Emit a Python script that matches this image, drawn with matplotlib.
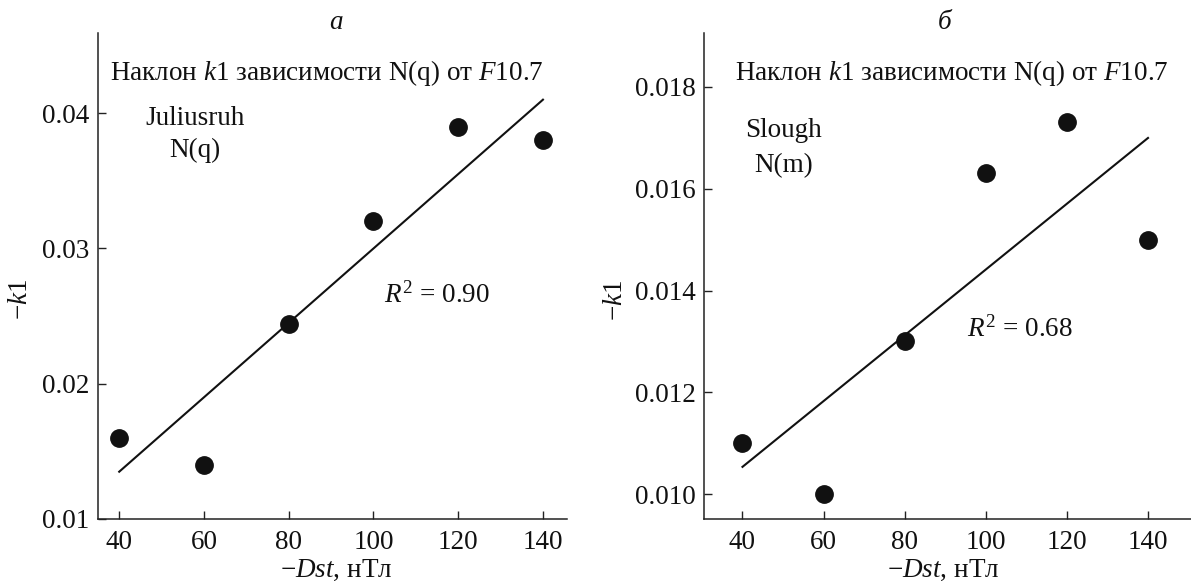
"""Slope k1 of N(q)/N(m) vs F10.7 as a function of -Dst, two stations."""
import numpy as np
import matplotlib
matplotlib.use("Agg")
import matplotlib.pyplot as plt
from matplotlib.ticker import FixedLocator, FormatStrFormatter

plt.rcParams["font.family"] = ["Liberation Serif", "DejaVu Serif"]
plt.rcParams["mathtext.fontset"] = "custom"
plt.rcParams["mathtext.rm"] = "Liberation Serif"
plt.rcParams["mathtext.it"] = "Liberation Serif:italic"
plt.rcParams["mathtext.bf"] = "Liberation Serif:bold"

# ------------------------------------------------------------------ #
# Data
# ------------------------------------------------------------------ #
dst = [40, 60, 80, 100, 120, 140]

k1_juliusruh = [0.016, 0.014, 0.0244, 0.032, 0.039, 0.038]
k1_slough = [0.011, 0.010, 0.013, 0.0163, 0.0173, 0.015]

xticks = [40, 60, 80, 100, 120, 140]
yticks_a = [0.01, 0.02, 0.03, 0.04]
yticks_b = [0.010, 0.012, 0.014, 0.016, 0.018]

FS = 19.5
INK = "#111111"


def style_axes(ax, xlim, ylim, yticks, yfmt):
    ax.set_xlim(*xlim)
    ax.set_ylim(*ylim)
    ax.xaxis.set_major_locator(FixedLocator(xticks))
    ax.yaxis.set_major_locator(FixedLocator(yticks))
    ax.yaxis.set_major_formatter(FormatStrFormatter(yfmt))
    for side in ("top", "right"):
        ax.spines[side].set_visible(False)
    for side in ("left", "bottom"):
        ax.spines[side].set_linewidth(1.1)
        ax.spines[side].set_color("#222222")
    ax.tick_params(axis="both", direction="in", length=6, width=1.0,
                   color="#222222", labelsize=FS, labelcolor=INK)
    ax.tick_params(axis="x", pad=8)
    ax.tick_params(axis="y", pad=6)


def draw_panel(ax, x, y, letter, station, series, r2_pos, lab):
    x = np.asarray(x, dtype=float)
    y = np.asarray(y, dtype=float)
    slope, icpt = np.polyfit(x, y, 1)
    fit = slope * x + icpt
    r2 = 1 - np.sum((y - fit) ** 2) / np.sum((y - y.mean()) ** 2)

    xs = np.array([x.min(), x.max()])
    ax.plot(xs, slope * xs + icpt, color=INK, lw=1.5, zorder=2)
    ax.plot(x, y, "o", ms=12.5, color=INK, mec=INK, zorder=3)

    tr = ax.transAxes
    ax.text(lab["letter"][0], lab["letter"][1], letter, transform=tr,
            ha="center", va="baseline", fontsize=FS, style="italic", color=INK)
    ax.text(lab["title"][0], lab["title"][1],
            r"Наклон $k$1 зависимости N(q) от $F$10.7", transform=tr,
            ha="center", va="baseline", fontsize=FS, color=INK)
    ax.text(lab["station"][0], lab["station"][1], station, transform=tr,
            ha="center", va="baseline", fontsize=FS, color=INK)
    ax.text(lab["series"][0], lab["series"][1], series, transform=tr,
            ha="center", va="baseline", fontsize=FS, color=INK)
    ax.text(r2_pos[0], r2_pos[1], rf"$R^2$ = {r2:.2f}", transform=tr,
            ha="center", va="baseline", fontsize=FS, color=INK)
    ax.text(lab["ylab"][0], lab["ylab"][1], r"$-k$1", transform=tr,
            ha="center", va="center", rotation=90, fontsize=FS, color=INK)
    ax.text(lab["xlab"][0], lab["xlab"][1], r"$-Dst$, нТл", transform=tr,
            ha="center", va="baseline", fontsize=FS, color=INK)


fig = plt.figure(figsize=(11.91, 5.81), dpi=100)

ax_a = fig.add_axes([0.0823, 0.1072, 0.3935, 0.8355])
ax_b = fig.add_axes([0.5914, 0.1072, 0.4086, 0.8355])

style_axes(ax_a, (35, 145.6), (0.01, 0.0459), yticks_a, "%.2f")
style_axes(ax_b, (30.6, 150.6), (0.00952, 0.01905), yticks_b, "%.3f")

draw_panel(
    ax_a, dst, k1_juliusruh, "а", "Juliusruh", "N(q)", (0.724, 0.445),
    {"letter": (0.508, 1.008), "title": (0.4875, 0.9038),
     "station": (0.207, 0.8108), "series": (0.207, 0.7449),
     "ylab": (-0.166, 0.4526), "xlab": (0.508, -0.120)},
)
draw_panel(
    ax_b, dst, k1_slough, "б", "Slough", "N(m)", (0.649, 0.375),
    {"letter": (0.493, 1.008), "title": (0.508, 0.9038),
     "station": (0.163, 0.787), "series": (0.163, 0.715),
     "ylab": (-0.183, 0.45), "xlab": (0.49, -0.120)},
)

fig.savefig("out.png", dpi=100)
